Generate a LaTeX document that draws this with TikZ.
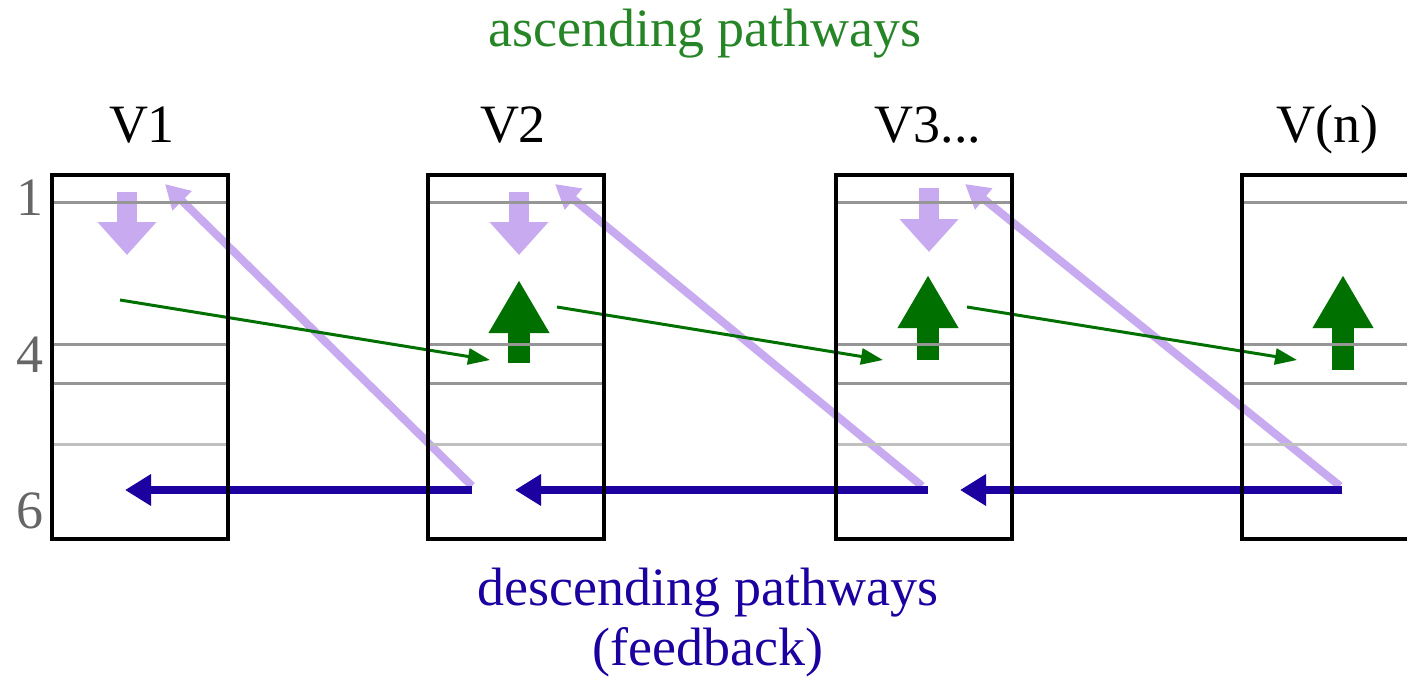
\documentclass[tikz,border=0pt]{standalone}
\usepackage{fontspec}
\setmainfont{Liberation Serif}
\usetikzlibrary{arrows.meta, positioning, backgrounds}
\definecolor{lilac}{RGB}{200,170,240}
\definecolor{fwdgreen}{RGB}{0,112,0}
\definecolor{fbblue}{RGB}{28,0,160}
\definecolor{layergray}{RGB}{150,150,150}
\definecolor{layerlight}{RGB}{192,192,192}

\begin{document}
\begin{tikzpicture}[
  x=1pt, y=-1pt,
  every node/.style={font=\fontsize{54}{60}\selectfont, inner sep=0pt},
  area/.style={rectangle, draw, line width=4pt, outer sep=0pt, minimum width=176pt, minimum height=364pt},
  layer/.style={line width=3pt, layergray, shorten <=2pt, shorten >=2pt},
  layerfaint/.style={line width=3pt, layerlight, shorten <=2pt, shorten >=2pt},
  inflow/.style={line width=20pt, lilac, -{Triangle[width=57pt, length=33pt]}},
  upflow/.style={line width=22pt, fwdgreen, -{Triangle[width=57pt, length=53pt]}},
  fwd/.style={line width=3pt, fwdgreen, -{Triangle[width=16pt, length=22pt]}},
  back/.style={line width=8pt, lilac, -{Triangle[width=26pt, length=24pt]}},
  fb/.style={line width=8pt, fbblue, -{Triangle[width=30pt, length=26pt]}},
]
  \clip (0,0) rectangle (1407,677);

  % Areas
  \node[area] (v1) at (140,357) {};
  \node[area] (v2) at (516,357) {};
  \node[area] (v3) at (924,357) {};
  \node[area] (vn) at (1330,357) {};

  % Laminae
  \foreach \v in {v1, v2, v3, vn} {
    \foreach \d in {27, 169, 208}
      \draw[layer] ([yshift=-\d pt]\v.north west) -- ([yshift=-\d pt]\v.north east);
    \draw[layerfaint] ([yshift=-269pt]\v.north west) -- ([yshift=-269pt]\v.north east);
  }

  % Area names
  \node[anchor=base] (name1) at (142,142) {V1};
  \node[anchor=base] (name2) at (513,142) {V2};
  \node[anchor=base] (name3) at (928,142) {V3...};
  \node[anchor=base] (namen) at (1327,142) {V(n)};

  % Layer numbers
  \node[anchor=base, gray!80!black] (lay1) at (30,215) {1};
  \node[anchor=base, gray!80!black] (lay4) at (30,372) {4};
  \node[anchor=base, gray!80!black] (lay6) at (30,528) {6};

  % Titles
  \node[anchor=base, fwdgreen!85!white] (asc) at (705,47) {ascending pathways};
  \node[anchor=base, fbblue, align=center] (desc) at (708,665) {descending pathways\\(feedback)};

  % End points
  \coordinate (in1a) at (127,192);  \coordinate (in1b) at (127,255);
  \coordinate (in2a) at (519,192);  \coordinate (in2b) at (519,255);
  \coordinate (in3a) at (929,188);  \coordinate (in3b) at (929,252);
  \coordinate (up2a) at (519,363);  \coordinate (up2b) at (519,280);
  \coordinate (up3a) at (928,360);  \coordinate (up3b) at (928,275);
  \coordinate (upna) at (1343,370); \coordinate (upnb) at (1343,275);
  \coordinate (ff1) at (120,300);   \coordinate (ff2) at (490,360);
  \coordinate (ff2s) at (557,307);  \coordinate (ff3) at (883,360);
  \coordinate (ff3s) at (967,307);  \coordinate (ffn) at (1297,360);
  \coordinate (fb1) at (125,490);   \coordinate (fb2s) at (472,490);
  \coordinate (fb2) at (515,490);   \coordinate (fb3s) at (928,490);
  \coordinate (fb3) at (960,490);   \coordinate (fbns) at (1342,490);
  \coordinate (top1) at (165,184);  \coordinate (top2) at (555,184);
  \coordinate (top3) at (965,184);

  % Pathways
  \begin{scope}[on background layer]
    \draw[back] ([yshift=4pt]fb2s) -- (top1);
    \draw[back] ([xshift=-6pt, yshift=4pt]fb3s) -- (top2);
    \draw[back] ([xshift=-2pt, yshift=4pt]fbns) -- (top3);
    \draw[inflow] (in1a) -- (in1b);
    \draw[inflow] (in2a) -- (in2b);
    \draw[inflow] (in3a) -- (in3b);
    \draw[upflow] (up2a) -- (up2b);
    \draw[upflow] (up3a) -- (up3b);
    \draw[upflow] (upna) -- (upnb);
    \draw[fwd] (ff1) -- (ff2);
    \draw[fwd] (ff2s) -- (ff3);
    \draw[fwd] (ff3s) -- (ffn);
    \draw[fb] (fb2s) -- (fb1);
    \draw[fb] (fb3s) -- (fb2);
    \draw[fb] (fbns) -- (fb3);
  \end{scope}
\end{tikzpicture}
\end{document}
